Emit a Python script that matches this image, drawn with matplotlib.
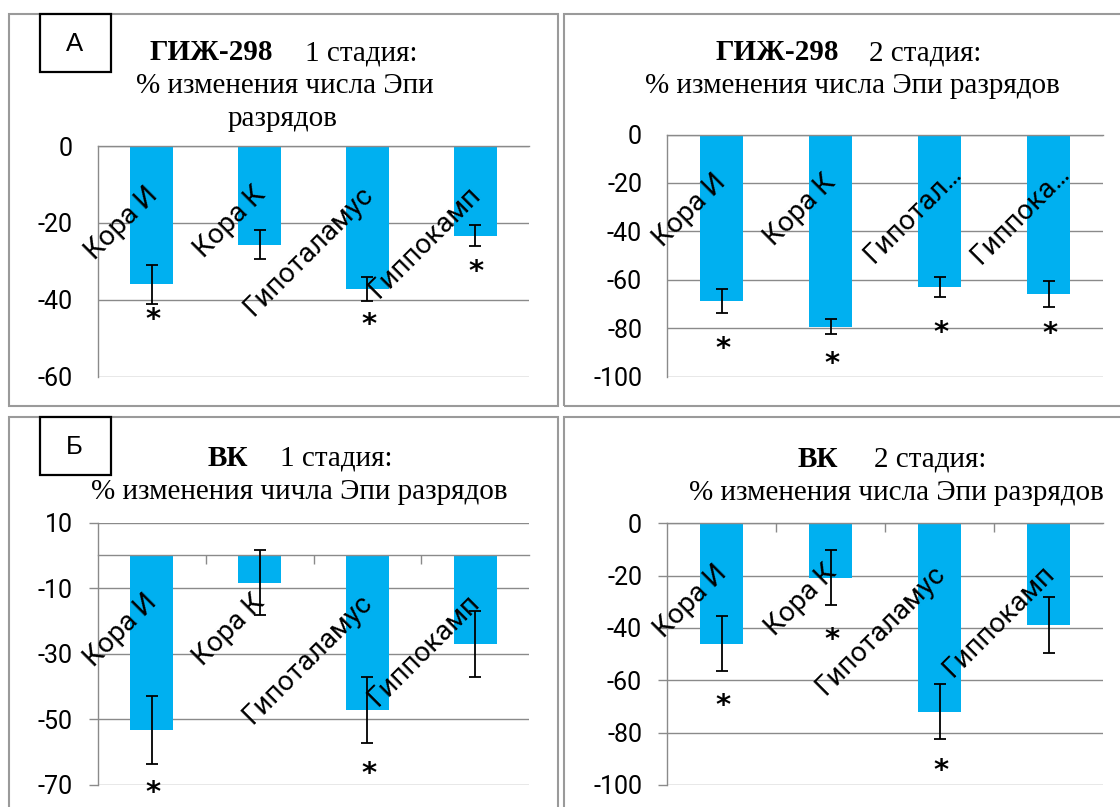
import matplotlib
matplotlib.use("Agg")
import matplotlib.pyplot as plt
from matplotlib.patches import Rectangle
from matplotlib.textpath import TextPath
from matplotlib.font_manager import FontProperties
import numpy as np

# ---------------------------------------------------------------- data
categories = ["Кора И", "Кора К", "Гипоталамус", "Гиппокамп"]
categories_short = ["Кора И", "Кора К", "Гипотал…", "Гиппока…"]

giz_stage1_values = [-36.0, -25.7, -37.2, -23.3]
giz_stage1_errors = [5.1, 3.8, 3.1, 2.8]
giz_stage1_signif = [True, False, True, True]

giz_stage2_values = [-68.6, -79.3, -63.1, -65.7]
giz_stage2_errors = [5.0, 3.0, 4.1, 5.4]
giz_stage2_signif = [True, True, True, True]

vk_stage1_values = [-53.2, -8.3, -47.1, -27.0]
vk_stage1_errors = [10.3, 10.0, 10.1, 10.2]
vk_stage1_signif = [True, False, True, False]

vk_stage2_values = [-46.0, -20.8, -72.0, -38.9]
vk_stage2_errors = [10.5, 10.5, 10.6, 10.6]
vk_stage2_signif = [True, True, True, False]

yticks_giz1 = [0, -20, -40, -60]
yticks_giz2 = [0, -20, -40, -60, -80, -100]
yticks_vk1 = [10, -10, -30, -50, -70]
yticks_vk2 = [0, -20, -40, -60, -80, -100]

# ---------------------------------------------------------------- style
W, H = 1120, 807
PT = 72 / 100          # points per pixel at dpi=100
SANS = ["Roboto", "DejaVu Sans"]
SERIF = ["Liberation Serif", "DejaVu Serif"]
STAR_FONT = ["DejaVu Sans"]
BAR = "#00B0F0"
GRID = "#8a8a8a"
BORDER = "#9a9a9a"
LABEL_FS = 20
TICK_FS = 18
TITLE_FS = 21
STAR_FS = 21

fig = plt.figure(figsize=(W / 100, H / 100), dpi=100)

# vertical centre of the asterisk glyph above its baseline, in points
_star_box = TextPath((0, 0), "*", size=STAR_FS,
                     prop=FontProperties(family=STAR_FONT,
                                         weight="bold")).get_extents()
STAR_MID = (_star_box.y0 + _star_box.y1) / 2


def fig_xy(x, y):
    return x / W, 1 - y / H


def ftext(x, y, s, **kw):
    fx, fy = fig_xy(x, y)
    fig.text(fx, fy, s, **kw)


def frame(x0, y0, x1, y1, color, lw):
    fx0, fy1 = fig_xy(x0, y1)
    fig.patches.append(Rectangle((fx0, fy1), (x1 - x0) / W, (y1 - y0) / H,
                                 transform=fig.transFigure, fill=False,
                                 edgecolor=color, lw=lw, zorder=0))


def panel(box, values, errors, signif, labels, yticks, ylim, outer_ticks,
          label_shift, short_shift, star_gaps):
    x0, y0, x1, y1 = box
    fx0, fy1 = fig_xy(x0, y1)
    ax = fig.add_axes([fx0, fy1, (x1 - x0) / W, (y1 - y0) / H])
    x = np.arange(len(values))
    ax.bar(x, values, width=0.4, color=BAR, zorder=2)
    ax.errorbar(x, values, yerr=errors, fmt="none", ecolor="black",
                elinewidth=1.3, capsize=4, capthick=1.3, zorder=3)
    ax.set_xlim(-0.5, len(values) - 0.5)
    ax.set_ylim(*ylim)
    ax.set_yticks(yticks)
    ax.set_yticklabels([str(t) for t in yticks], family=SANS, fontsize=TICK_FS)
    ax.yaxis.grid(True, color=GRID, lw=1.0)
    ax.set_axisbelow(True)
    ax.patch.set_alpha(0)
    for s in ["top", "right"]:
        ax.spines[s].set_visible(False)
    ax.spines["left"].set_color(GRID)
    ax.spines["left"].set_linewidth(1.0)
    ax.spines["bottom"].set_position(("data", 0))
    ax.spines["bottom"].set_color(GRID)
    ax.spines["bottom"].set_linewidth(1.0)
    ax.set_xticks(np.arange(len(values) - 1) + 0.5)
    ax.set_xticklabels([])
    if outer_ticks:
        ax.tick_params(axis="y", length=9 * PT, width=1.0, color=GRID,
                       pad=16 * PT, direction="out")
        ax.tick_params(axis="x", length=9 * PT, width=1.0, color=GRID,
                       direction="out")
    else:
        ax.tick_params(axis="y", length=0, pad=25 * PT)
        ax.tick_params(axis="x", length=0)

    for i, lab in enumerate(labels):
        dx, dy = short_shift if lab.endswith("…") else label_shift
        ax.annotate(lab, xy=(i, 0), xycoords="data",
                    xytext=(dx * PT, -dy * PT), textcoords="offset points",
                    rotation=45, rotation_mode="anchor", ha="right",
                    va="baseline", family=SANS, fontsize=LABEL_FS,
                    color="black", zorder=4, annotation_clip=False)

    for i, flag in enumerate(signif):
        if flag:
            ax.annotate("*", xy=(i, values[i] - errors[i]), xycoords="data",
                        xytext=(1, -(star_gaps[i] * PT + STAR_MID)),
                        textcoords="offset points", ha="center",
                        va="baseline", family=STAR_FONT, weight="bold",
                        fontsize=STAR_FS, color="black", zorder=4,
                        annotation_clip=False)
    return ax


# panel frames
frame(8.5, 14, 558, 405.5, BORDER, 1.5)
frame(563.5, 14, 1160, 405.5, BORDER, 1.5)
frame(8.5, 417, 558, 830, BORDER, 1.5)
frame(563.5, 417, 1160, 830, BORDER, 1.5)

panel((98, 146, 529, 376.5), giz_stage1_values, giz_stage1_errors,
      giz_stage1_signif, categories, yticks_giz1, (-60, 0), False,
      (7, 50), (23, 40), [9, 0, 17, 19])
panel((667, 134.5, 1103, 376.7), giz_stage2_values, giz_stage2_errors,
      giz_stage2_signif, categories_short, yticks_giz2, (-100, 0), False,
      (6, 49), (23, 40), [29, 23, 29, 20])
panel((98, 522.7, 529, 785), vk_stage1_values, vk_stage1_errors,
      vk_stage1_signif, categories, yticks_vk1, (-70, 10), True,
      (6, 48), (23, 40), [22, 0, 24, 0])
panel((667, 523.3, 1103, 785), vk_stage2_values, vk_stage2_errors,
      vk_stage2_signif, categories, yticks_vk2, (-100, 0), True,
      (7, 51), (23, 40), [28, 28, 25, 0])

# titles
tkw = dict(family=SERIF, fontsize=TITLE_FS, color="black", va="baseline")
ftext(273, 60.5, "ГИЖ-298", ha="right", weight="bold", **tkw)
ftext(305, 60.5, "1 стадия:", ha="left", **tkw)
ftext(285, 93.3, "% изменения числа Эпи", ha="center", **tkw)
ftext(283, 126.5, "разрядов", ha="center", **tkw)

ftext(838.6, 60, "ГИЖ-298", ha="right", weight="bold", **tkw)
ftext(869, 60, "2 стадия:", ha="left", **tkw)
ftext(852, 93.3, "% изменения числа Эпи разрядов", ha="center", **tkw)

ftext(248, 465.7, "ВК", ha="right", weight="bold", **tkw)
ftext(280, 465.7, "1 стадия:", ha="left", **tkw)
ftext(299, 499.3, "% изменения чичла Эпи разрядов", ha="center", **tkw)

ftext(838, 466.7, "ВК", ha="right", weight="bold", **tkw)
ftext(874, 466.7, "2 стадия:", ha="left", **tkw)
ftext(896.5, 500, "% изменения числа Эпи разрядов", ha="center", **tkw)

# panel letters
for letter, (bx0, by0, bx1, by1) in [("А", (40, 14, 110.5, 71.7)),
                                     ("Б", (40, 417.3, 110.5, 475))]:
    fx0, fy1 = fig_xy(bx0, by1)
    fig.patches.append(Rectangle((fx0, fy1), (bx1 - bx0) / W, (by1 - by0) / H,
                                 transform=fig.transFigure, facecolor="white",
                                 edgecolor="black", lw=1.6, zorder=5))
    ftext((bx0 + bx1) / 2 - 1, (by0 + by1) / 2 + 1, letter, ha="center",
          va="center", family=["Liberation Sans", "DejaVu Sans"],
          fontsize=18.5, zorder=6)

fig.savefig("out.png", dpi=100)
